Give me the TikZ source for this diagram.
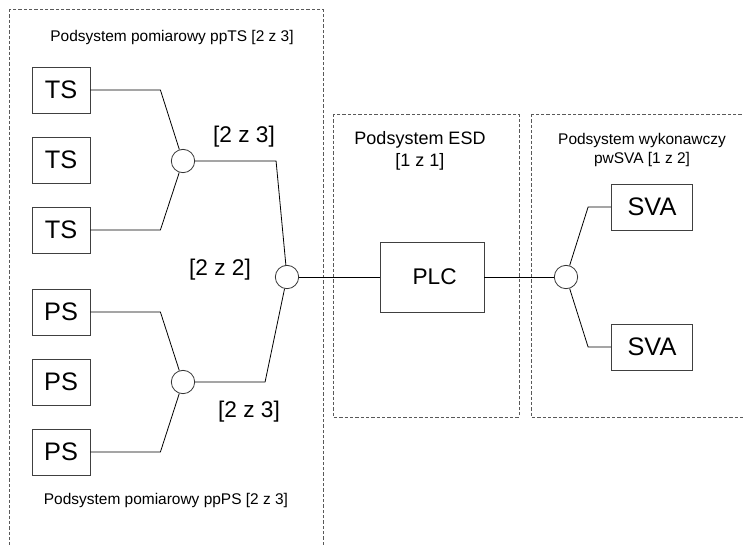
\documentclass[tikz,border=0pt]{standalone}
\usepackage{fontspec}
\setmainfont{Liberation Sans}
\tikzset{
	unitbox/.style={draw=black!75, inner sep=0pt, minimum width=43.5pt, minimum height=34.5pt, font=\fontsize{19}{22}\selectfont},
	vote/.style={draw=black!80, circle, inner sep=0pt, minimum size=17.5pt},
	groupbox/.style={draw=black!65, dash pattern=on 2.4pt off 1.6pt},
	caption/.style={font=\fontsize{11.6}{14.25}\selectfont, align=center},
	ratio/.style={font=\fontsize{17}{20}\selectfont}
}
\begin{document}
\begin{tikzpicture}[x=0.75pt, y=-0.75pt, line width=0.6pt]
		\useasboundingbox (0,0) rectangle (743,544);
		\clip (0,0) rectangle (743,544);

		\draw [groupbox] (9,9) rectangle (323,560);
		\draw [groupbox] (333,114) rectangle (519,417);
		\draw [groupbox] (531,114) rectangle (760,417);

		\node [caption] (ppTS) at (172,37) {Podsystem pomiarowy ppTS [2 z 3]};
		\node [caption] (ppPS) at (166,500) {Podsystem pomiarowy ppPS [2 z 3]};
		\node [caption, font=\fontsize{13.5}{16.5}\selectfont] (esd) at (420,151) {Podsystem ESD\\\relax[1 z 1]};
		\node [caption] (pwSVA) at (642,149.5) {Podsystem wykonawczy\\pwSVA [1 z 2]};

		\node [unitbox] (ts1) at (61,90) {TS};
		\node [unitbox] (ts2) at (61,160) {TS};
		\node [unitbox] (ts3) at (61,230) {TS};
		\node [unitbox] (ps1) at (61,312) {PS};
		\node [unitbox] (ps2) at (61,382) {PS};
		\node [unitbox] (ps3) at (61,452) {PS};
		\node [unitbox, minimum width=78pt, minimum height=52.5pt, font=\fontsize{17}{20}\selectfont] (plc) at (432,277) {\hspace{4pt}PLC};
		\node [unitbox, minimum width=60.75pt] (sva1) at (652,207) {SVA};
		\node [unitbox, minimum width=60.75pt] (sva2) at (652,347) {SVA};

		\node [vote] (vts) at (183,161) {};
		\node [vote] (vall) at (287,277) {};
		\node [vote] (vps) at (183,382) {};
		\node [vote] (vsva) at (566,277) {};

		\node [ratio] (rts) at (244,137) {[2 z 3]};
		\node [ratio] (rall) at (220,270) {[2 z 2]};
		\node [ratio] (rps) at (249,412) {[2 z 3]};

		\draw (ts1.east) -- ++(70,0) -- (vts);
		\draw (ts3.east) -- ++(70,0) -- (vts);
		\draw (ps1.east) -- ++(70,0) -- (vps);
		\draw (ps3.east) -- ++(70,0) -- (vps);
		\draw (vts.east) -- ++(81,0) -- (vall);
		\draw (vps.east) -- ++(70,0) -- (vall);
		\draw (vall) -- (plc);
		\draw (plc) -- (vsva);
		\draw (sva1.west) -- ++(-23,0) -- (vsva);
		\draw (sva2.west) -- ++(-23,0) -- (vsva);
		\end{tikzpicture}
\end{document}
